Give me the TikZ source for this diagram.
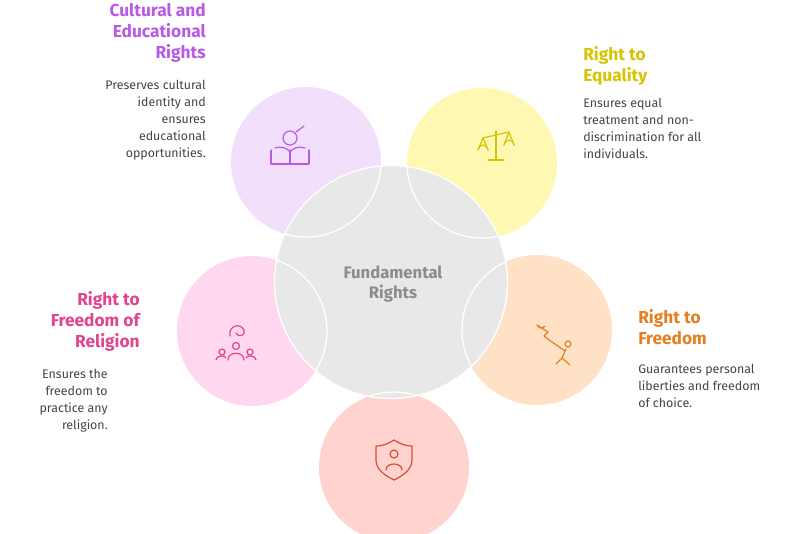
\documentclass[tikz,border=0pt]{standalone}
\usepackage{fontspec}
\setmainfont{Fira Sans}
\definecolor{purpT}{HTML}{B85AE6}
\definecolor{purpF}{HTML}{F2DFFC}
\definecolor{yellT}{HTML}{D6C400}
\definecolor{yellF}{HTML}{FFF8B3}
\definecolor{orngT}{HTML}{E47F22}
\definecolor{orngF}{HTML}{FFE1C6}
\definecolor{redT}{HTML}{E0483C}
\definecolor{redF}{HTML}{FFD3CE}
\definecolor{pinkT}{HTML}{E2448E}
\definecolor{pinkF}{HTML}{FFD7EE}
\definecolor{grayF}{HTML}{E8E8E8}
\definecolor{grayT}{HTML}{8C8C8C}
\definecolor{descT}{HTML}{444444}
\tikzset{
  petal/.style={circle, minimum size=150*0.75pt, inner sep=0pt},
  title/.style={font=\fontsize{13}{15.75}\selectfont\bfseries, inner sep=0pt},
  desc/.style={font=\fontsize{9.3}{12.75}\selectfont, text=descT, inner sep=0pt},
  icon/.style={line width=0.9pt, line cap=round, line join=round}
}
\begin{document}
\begin{tikzpicture}[x=0.75pt,y=-0.75pt]
\useasboundingbox (0,0) rectangle (800,533);

% petals
\node[petal, fill=purpF] (cult) at (306,162) {};
\node[petal, fill=yellF] (equa) at (482,163) {};
\node[petal, fill=orngF] (free) at (537,330) {};
\node[petal, fill=redF]  (life) at (394,467) {};
\node[petal, fill=pinkF] (reli) at (252,331) {};

% centre
\node[circle, minimum size=233*0.75pt, fill=grayF, draw=white, line width=1pt] (core) at (391,282) {};
\begin{scope}
  \clip (core) circle [radius=116];
  \foreach \p in {cult,equa,free,life,reli}
     \draw[white, line width=1pt] (\p) circle [radius=75];
\end{scope}
\node[font=\fontsize{12.5}{14.5}\selectfont\bfseries, text=grayT, align=center] at (393,284) {Fundamental\\Rights};

% icons
\begin{scope}[icon, draw=purpT]
  \draw (271,150) -- (271,164) -- (290,164) -- (290,150);
  \draw (290,164) -- (309,164) -- (309,150);
  \draw (275,148) .. controls (282,146) and (287,148) .. (290,152) .. controls (293,148) and (298,146) .. (305,148);
  \draw (290,138) circle [radius=7];
  \draw (296,132) -- (304,126);
\end{scope}
\begin{scope}[icon, draw=yellT]
  \draw (496,131) -- (496,160) (488,160) -- (504,160);
  \draw (483,138) -- (509,132);
  \draw (478,150) -- (483,138) -- (488,150);
  \draw (478,150) arc (180:360:5);
  \draw (504,145) -- (509,132) -- (514,145);
  \draw (504,145) arc (180:360:5);
\end{scope}
\begin{scope}[icon, draw=orngT]
  \draw (568,344) circle [radius=3];
  \draw (566,349) -- (562,358) -- (570,365) (562,358) -- (556,364);
  \draw (565,351) -- (552,342);
  \draw (537,325) -- (548,332) -- (544,336) -- (552,342);
  \draw (537,325) .. controls (540,330) and (543,328) .. (545,326);
\end{scope}
\begin{scope}[icon, draw=redT]
  \draw (394,440) .. controls (386,445) and (381,446) .. (376,446) -- (376,460) .. controls (376,470) and (386,476) .. (394,480) .. controls (402,476) and (412,470) .. (412,460) -- (412,446) .. controls (407,446) and (402,445) .. (394,440) -- cycle;
  \draw (394,454) circle [radius=4];
  \draw (386,470) .. controls (386,462) and (402,462) .. (402,470);
\end{scope}
\begin{scope}[icon, draw=pinkT]
  \draw (236,346) circle [radius=3.5] (222,352) circle [radius=3] (250,352) circle [radius=3];
  \draw (228,360) .. controls (228,351) and (244,351) .. (244,360);
  \draw (216,360) .. controls (216,355) and (226,355) .. (226,358);
  \draw (246,358) .. controls (246,355) and (256,355) .. (256,360);
  \draw (230,336) .. controls (228,326) and (240,322) .. (244,330) .. controls (246,336) and (238,338) .. (236,333);
\end{scope}

% texts
\node[title, text=purpT, align=right, anchor=north east] (cultT) at (206,3) {Cultural and\\Educational\\Rights};
\node[desc, align=right, anchor=north east] (cultD) at (206,80) {Preserves cultural\\identity and\\ensures\\educational\\opportunities.};
\node[title, text=yellT, align=left, anchor=north west] (equaT) at (583,46) {Right to\\Equality};
\node[desc, align=left, anchor=north west] (equaD) at (583,98) {Ensures equal\\treatment and non-\\discrimination for all\\individuals.};
\node[title, text=orngT, align=left, anchor=north west] (freeT) at (638,309) {Right to\\Freedom};
\node[desc, align=left, anchor=north west] (freeD) at (638,364) {Guarantees personal\\liberties and freedom\\of choice.};
\node[title, text=pinkT, align=right, anchor=north east] (reliT) at (140,291) {Right to\\Freedom of\\Religion};
\node[desc, align=right, anchor=north east] (reliD) at (108,369) {Ensures the\\freedom to\\practice any\\religion.};
\end{tikzpicture}
\end{document}
